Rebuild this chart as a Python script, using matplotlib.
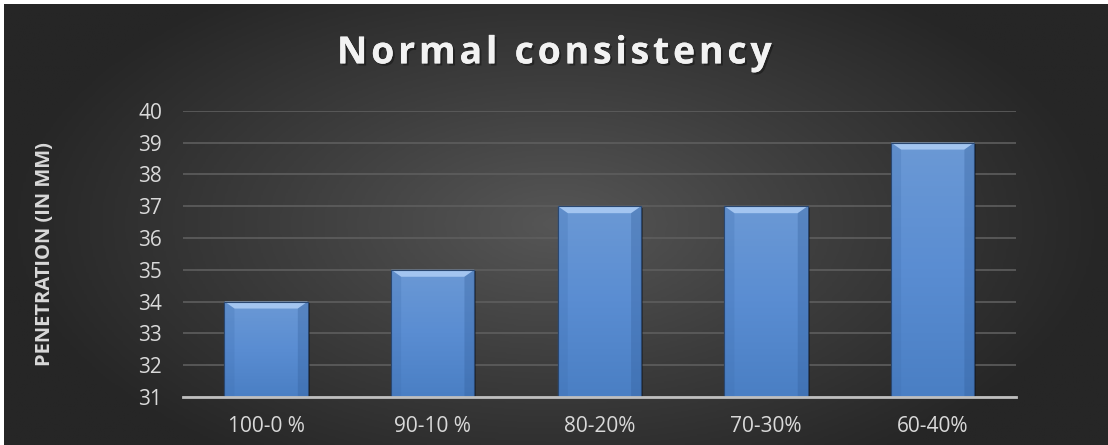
import numpy as np
import matplotlib.pyplot as plt
import matplotlib.patheffects as pe
from matplotlib.colors import LinearSegmentedColormap
from matplotlib.patches import Polygon

categories = ['100-0 %', '90-10 %', '80-20%', '70-30%', '60-40%']
penetration = [34, 35, 37, 37, 39]
y_ticks = list(range(31, 41))
title = 'Normal consistency'

fig = plt.figure(figsize=(11.08, 4.45), dpi=100)
fig.patch.set_facecolor('white')

# radial grey background, thin white edge at top and left like the original
bg = fig.add_axes([0.004, 0, 0.996, 0.992])
bg.set_axis_off()
xx, yy = np.meshgrid(np.linspace(-1, 1, 400), np.linspace(-1, 1, 200))
r = np.clip(np.sqrt((xx / 1.0) ** 2 + (yy / 1.3) ** 2), 0, 1)
bg_cmap = LinearSegmentedColormap.from_list('bg', ['#565656', '#3d3d3d', '#262626'])
bg.imshow(r, cmap=bg_cmap, aspect='auto', extent=[0, 1, 0, 1], vmin=0, vmax=1)

ax = fig.add_axes([0.165, 0.108, 0.752, 0.643])
ax.patch.set_alpha(0)
x = np.arange(len(categories))
bars = ax.bar(x, np.array(penetration) - 31, bottom=31, width=0.5,
              color='#4f81c8', edgecolor='#2f4f7a', linewidth=0.8, zorder=3)

# vertical gradient + bevel on each bar
bar_cmap = LinearSegmentedColormap.from_list('bar', ['#4a7fc4', '#5a8dd2', '#6b99d5'])
grad = np.linspace(0, 1, 100).reshape(-1, 1)
for b in bars:
    x0, w = b.get_x(), b.get_width()
    y0, h = b.get_y(), b.get_height()
    # soft shadow
    ax.add_patch(plt.Rectangle((x0 + 0.012, y0), w, h - 0.05, facecolor='black',
                               alpha=0.35, edgecolor='none', zorder=2.9))
    im = ax.imshow(grad, cmap=bar_cmap, aspect='auto', origin='lower',
                   extent=[x0, x0 + w, y0, y0 + h], zorder=3.1)
    im.set_clip_path(b)
    top = y0 + h
    d = 0.06
    dh = 0.22
    ax.add_patch(Polygon([[x0, top], [x0 + w, top], [x0 + w - d, top - dh], [x0 + d, top - dh]],
                         closed=True, facecolor='#a3c5f0', edgecolor='none', zorder=3.2))
    ax.add_patch(Polygon([[x0, top], [x0 + d, top - dh], [x0 + d, y0], [x0, y0]],
                         closed=True, facecolor='#3f6faf', edgecolor='none', alpha=0.25, zorder=3.2))
    ax.add_patch(Polygon([[x0 + w, top], [x0 + w - d, top - dh], [x0 + w - d, y0], [x0 + w, y0]],
                         closed=True, facecolor='#2f5a95', edgecolor='none', alpha=0.3, zorder=3.2))
    ax.add_patch(plt.Rectangle((x0, y0), w, h, fill=False, edgecolor='#2a4770',
                               linewidth=0.8, zorder=3.3))

ax.set_xlim(-0.5, len(categories) - 0.5)
ax.set_ylim(31, 40)
ax.set_yticks(y_ticks)
ax.set_xticks(x)
ax.set_xticklabels(categories)
ax.yaxis.grid(True, color='#5e5e5e', linewidth=1.2, zorder=0)
ax.set_axisbelow(True)
for s in ['top', 'right', 'left']:
    ax.spines[s].set_visible(False)
ax.spines['bottom'].set_color('#bfbfbf')
ax.spines['bottom'].set_linewidth(2)
ax.spines['bottom'].set_zorder(4)
ax.tick_params(axis='both', length=0, colors='#d9d9d9', labelsize=15)
ax.tick_params(axis='x', pad=14)
ax.tick_params(axis='y', pad=15)
for lab in ax.get_xticklabels() + ax.get_yticklabels():
    lab.set_family('Open Sans')

ax.set_ylabel('PENETRATION (IN MM)', color='#d9d9d9', fontsize=14.5,
              fontweight='bold', family='Open Sans', labelpad=60)

spaced = '\u200a'.join(title)
fig.text(0.5, 0.88, spaced, ha='center', va='center',
         color='#f2f2f2', fontsize=27, fontweight='bold', family=['Open Sans', 'DejaVu Sans'],
         path_effects=[pe.withSimplePatchShadow(offset=(1.5, -1.5), shadow_rgbFace='black', alpha=0.35),
                       pe.Normal()])

fig.savefig('out.png', dpi=100, facecolor=fig.get_facecolor())
